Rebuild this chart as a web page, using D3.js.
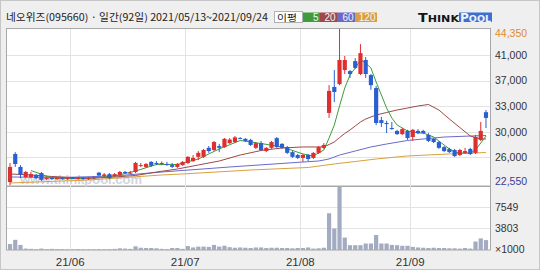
<!DOCTYPE html>
<html>
<head>
<meta charset="utf-8">
<script src="https://cdn.jsdelivr.net/npm/d3@7"></script>
<style>
html, body { margin: 0; padding: 0; background: #efefef; }
svg { display: block; }
</style>
</head>
<body>
<div id="chart"></div>
<script>
// 네오위즈 일봉 92일 (2021/05/13 ~ 2021/09/24), 원
var openP = [23100,27000,25200,23800,23800,24100,24350,23500,23650,23500,
  23650,23500,23650,23600,23650,23500,23650,24400,23950,24200,
  23950,24100,24500,24350,24500,25400,25200,25900,25750,25650,
  25600,25450,25200,25450,25750,26000,26600,26600,27850,27550,
  28100,27950,28500,28650,29200,29100,28950,27850,28500,27400,
  27850,29200,28400,27950,27250,26850,26450,26850,26450,27150,
  27850,32700,36300,36700,38650,38500,39900,38100,40050,37950,
  36150,31700,31300,30600,30200,29750,30200,29350,30200,30200,
  29650,29100,28650,27950,27700,27550,26850,27150,27700,27150,
  28950,32800];
var highP = [25750,27250,25450,24650,24500,24200,24500,23800,23800,23750,
  23800,23800,23800,23800,23800,23800,23950,24500,24350,24350,
  24350,24650,24650,24650,25900,25750,25750,26000,26000,25950,
  25900,25750,25750,26000,26700,26850,27400,27700,28100,28800,
  28400,29200,29200,29500,29350,29200,29100,28650,28800,27950,
  28800,29350,28500,28100,27400,27000,27000,27000,27250,28100,
  28500,36550,38650,44350,40600,38650,40300,42250,40450,38100,
  36450,32150,31600,31450,30350,30600,30350,30450,30450,30350,
  29900,29200,28800,28100,27850,27700,27700,27850,27850,29650,
  31450,33100];
var lowP = [22650,25200,23650,23650,23650,23500,23250,23400,23400,23400,
  23400,23400,23500,23450,23400,23400,23500,23950,23800,23500,
  23800,23950,24200,24200,24350,25200,25050,25200,25450,25450,
  25350,25050,25050,25350,25600,25900,26150,26450,27150,27400,
  27250,27850,28400,28500,29100,28650,28100,27700,27400,27250,
  27700,27850,27700,27000,26450,26300,25900,26000,26300,27000,
  27700,32000,34200,36550,38100,37550,38800,37950,37550,35900,
  31000,30750,29900,30350,29650,29650,28950,28800,29750,29750,
  28650,28500,27700,27250,27150,26600,26700,27000,26850,27000,
  28800,30600];
var closeP = [25200,25600,24100,24500,24200,23650,23400,23650,23500,23650,
  23500,23650,23600,23650,23500,23650,23750,24000,24150,23650,
  24200,24500,24350,24400,25750,25450,25600,25350,25650,25750,
  25550,25200,25600,25900,26600,26450,27150,27550,27400,28650,
  27850,29100,29000,29300,29150,28800,28250,28500,27550,27850,
  28650,27950,27850,27150,26600,26450,26850,26300,27150,27950,
  28250,35750,35600,40050,40050,38100,38950,41000,38100,36550,
  31300,31300,31150,30550,29750,30450,29200,30350,29900,29900,
  28800,28650,27850,27400,27250,26700,27550,27400,27000,29350,
  30200,32000];
// 거래량 (x1000)
var volume = [1050,1800,900,250,200,150,250,150,200,150,
  150,120,120,150,120,120,130,150,120,150,
  200,300,250,200,650,400,350,350,300,200,
  150,350,350,200,700,450,600,600,550,900,
  600,750,500,400,450,400,350,450,450,350,
  400,400,350,350,300,350,350,450,250,300,
  400,6500,3800,11200,2200,850,850,850,1150,1150,
  2650,1150,1150,900,850,750,750,550,450,400,
  350,400,350,350,300,300,250,350,250,1500,
  2050,1750];

// 이동평균선 (그림에서 읽은 지점)
var ma5Idx = [4,8,12,16,20,24,28,32,36,40,44,48,52,56,58,60,
  61,62,63,64,65,66,67,68,69,70,71,72,73,74,75,76,77,78,79,80,
  81,82,83,84,85,86,87,88,89,90,91];
var ma5 = [24700,23660,23590,23660,23940,24630,25540,25540,26300,27690,28870,28450,27970,27000,26720,27550,
  29210,31020,33660,36160,37960,38930,40050,39630,38930,36990,35190,33380,31990,31020,30600,30190,30050,29910,29910,29630,
  29350,28800,28240,27690,27270,27130,27130,27130,27550,28520,29490];
var ma20Idx = [0,4,8,12,16,20,24,28,32,36,40,44,48,52,56,60,
  61,62,63,64,65,66,67,68,69,70,72,74,76,78,80,82,84,86,88,90,91];
var ma20 = [24220,24080,23870,23730,23660,23800,24010,24490,24910,25470,26020,26850,27480,27830,27970,27970,
  28310,28660,29280,29840,30330,30880,31440,31850,32130,32410,32760,33100,33380,33660,33870,33100,31850,30670,29490,29080,29080];
var ma60Idx = [0,10,20,29,42,56,59,61,63,66,69,72,76,83,88,91];
var ma60 = [23800,23730,23940,24490,25190,25880,26020,26300,26850,27410,27970,28380,28870,29350,29490,29560];
var ma120Idx = [0,15,29,33,46,57,62,66,70,76,84,91];
var ma120 = [22970,23380,24080,24220,24770,25120,25610,25950,26300,26720,27000,27200];

var xTickIdx = [12, 34, 56, 77];
var xTickLabels = ["21/06", "21/07", "21/08", "21/09"];
var priceTickLabels = ["22,550", "26,000", "30,000", "33,000", "37,000", "41,000", "44,350"];
var volTicks = [3803, 7549];
var maNames = ["5", "20", "60", "120"];
var maColors = ["#3f9c3c", "#a04848", "#6a6acb", "#d9a040"];

var W = 540, H = 270;
var svg = d3.select("#chart").append("svg")
    .attr("width", W)
    .attr("height", H)
    .style("font-family", "'Liberation Sans', Arial, sans-serif");

svg.append("rect").attr("width", W).attr("height", H).attr("fill", "#efefef");
svg.append("rect")
    .attr("x", 0.5).attr("y", 0.5).attr("width", W - 1).attr("height", H - 1)
    .attr("fill", "none").attr("stroke", "#c6c6c6");

var n = closeP.length;
var x = d3.scaleBand().domain(d3.range(n)).range([7.4, 488.6]);
var step = x.step();
var bw = step * 0.8;
var cx = function(i) { return x(i) + step / 2; };
var y = d3.scaleLinear().domain([22550, 44350]).range([186, 29]);
var yv = d3.scaleLinear().domain([0, 11320]).range([250, 186]);
var grid = d3.scaleLinear().domain([0, 6]).range([183, 29.5]);

// panels
svg.append("rect")
    .attr("x", 6.5).attr("y", 28.5).attr("width", 484).attr("height", 157.5)
    .attr("fill", "#fff").attr("stroke", "#a8a8a8");
svg.append("rect")
    .attr("x", 6.5).attr("y", 186.5).attr("width", 484).attr("height", 63.5)
    .attr("fill", "#fff").attr("stroke", "#a8a8a8");

// grid
svg.append("g").selectAll("line")
    .data(d3.range(1, 6))
    .enter().append("line")
        .attr("x1", 7).attr("x2", 490)
        .attr("y1", function(k) { return Math.round(grid(k)) + 0.5; })
        .attr("y2", function(k) { return Math.round(grid(k)) + 0.5; })
        .attr("stroke", "#e3e3e3");
svg.append("g").selectAll("line")
    .data(volTicks)
    .enter().append("line")
        .attr("x1", 7).attr("x2", 490)
        .attr("y1", function(d) { return Math.round(yv(d)) + 0.5; })
        .attr("y2", function(d) { return Math.round(yv(d)) + 0.5; })
        .attr("stroke", "#e3e3e3");
svg.append("g").selectAll("line")
    .data(xTickIdx)
    .enter().append("line")
        .attr("x1", function(i) { return Math.round(x(i)) + 0.5; })
        .attr("x2", function(i) { return Math.round(x(i)) + 0.5; })
        .attr("y1", 29).attr("y2", 250)
        .attr("stroke", "#e3e3e3");

// watermark
svg.append("text")
    .attr("x", 20).attr("y", 184)
    .attr("textLength", 122).attr("lengthAdjust", "spacingAndGlyphs")
    .style("font-size", "12px").style("font-weight", "bold")
    .attr("fill", "#c9cce0").attr("opacity", 0.85)
    .text("www.thinkpool.com");

// moving averages
var line = d3.line()
    .x(function(d) { return cx(d[0]); })
    .y(function(d) { return y(d[1]); });
var maSets = [[ma120Idx, ma120], [ma60Idx, ma60], [ma20Idx, ma20], [ma5Idx, ma5]];
var maCol = [maColors[3], maColors[2], maColors[1], maColors[0]];
maSets.forEach(function(s, k) {
    svg.append("path")
        .datum(s[0].map(function(i, j) { return [i, s[1][j]]; }))
        .attr("d", line)
        .attr("fill", "none")
        .attr("stroke", maCol[k])
        .attr("stroke-width", 1);
});

// candles
var up = "#dc2f2f", down = "#2a5fd0";
var candle = svg.append("g").selectAll("g")
    .data(d3.range(n))
    .enter().append("g");
candle.append("line")
    .attr("x1", cx).attr("x2", cx)
    .attr("y1", function(i) { return y(highP[i]); })
    .attr("y2", function(i) { return y(lowP[i]); })
    .attr("stroke", function(i) { return closeP[i] >= openP[i] ? up : down; })
    .attr("stroke-width", 1);
candle.append("rect")
    .attr("x", function(i) { return cx(i) - bw / 2; })
    .attr("width", bw)
    .attr("y", function(i) { return y(Math.max(openP[i], closeP[i])); })
    .attr("height", function(i) { return Math.max(1, Math.abs(y(openP[i]) - y(closeP[i]))); })
    .attr("fill", function(i) { return closeP[i] >= openP[i] ? up : down; });

// volume
svg.append("g").selectAll("rect")
    .data(volume)
    .enter().append("rect")
        .attr("x", function(d, i) { return cx(i) - bw / 2; })
        .attr("width", bw)
        .attr("y", function(d) { return yv(d); })
        .attr("height", function(d) { return 250 - yv(d); })
        .attr("fill", "#a3abc3");

// right labels
svg.append("g").selectAll("text")
    .data(priceTickLabels)
    .enter().append("text")
        .attr("x", 495)
        .attr("y", function(d, k) { return grid(k) + (k === 0 ? -2 : (k === 6 ? 4 : 0)); })
        .attr("dy", "0.35em")
        .style("font-size", "10.5px")
        .attr("fill", function(d, k) { return k === 0 ? "#3c3c9a" : (k === 6 ? "#e08a30" : "#333"); })
        .text(function(d) { return d; });
svg.append("g").selectAll("text")
    .data(volTicks)
    .enter().append("text")
        .attr("x", 495)
        .attr("y", function(d) { return yv(d); })
        .attr("dy", "0.35em")
        .style("font-size", "10.5px")
        .attr("fill", "#333")
        .text(function(d) { return d; });
svg.append("text")
    .attr("x", 495).attr("y", 249).attr("dy", "0.35em")
    .style("font-size", "10.5px").attr("fill", "#333")
    .text("×1000");

// bottom labels
svg.append("g").selectAll("text")
    .data(xTickIdx)
    .enter().append("text")
        .attr("x", function(i) { return x(i); })
        .attr("y", 266)
        .attr("text-anchor", "middle")
        .style("font-size", "11.5px")
        .attr("fill", "#333")
        .text(function(d, k) { return xTickLabels[k]; });

// title
svg.append("text")
    .attr("x", 6).attr("y", 21)
    .attr("textLength", 262).attr("lengthAdjust", "spacingAndGlyphs")
    .style("font-family", "'Noto Sans CJK KR', sans-serif")
    .style("font-size", "10px")
    .attr("fill", "#222")
    .text("네오위즈(095660) · 일간(92일) 2021/05/13~2021/09/24");

// legend
var lg = svg.append("g");
lg.append("rect").attr("x", 274.5).attr("y", 11.5).attr("width", 28).attr("height", 11)
    .attr("fill", "#fff").attr("stroke", "#b0b0b0");
lg.append("text").attr("x", 277).attr("y", 20.5)
    .attr("textLength", 20).attr("lengthAdjust", "spacingAndGlyphs")
    .style("font-family", "'Noto Sans CJK KR', sans-serif").style("font-size", "9.5px")
    .attr("fill", "#222").text("이평");
var boxX = [303, 320, 337, 355], boxW = [17, 17, 18, 22];
maNames.forEach(function(name, k) {
    lg.append("rect").attr("x", boxX[k]).attr("y", 12.5).attr("width", boxW[k]).attr("height", 9.5)
        .attr("fill", maColors[k]);
    lg.append("text").attr("x", boxX[k] + boxW[k] - 1.5).attr("y", 21)
        .attr("text-anchor", "end").style("font-size", "10px")
        .attr("fill", "#f4f4f4").text(name);
});

// logo
var logo = svg.append("g").style("font-family", "'DejaVu Sans', sans-serif").style("font-weight", "bold");
var t1 = logo.append("text").attr("x", 418).attr("y", 21.5).attr("fill", "#151515")
    .attr("textLength", 41).attr("lengthAdjust", "spacingAndGlyphs");
t1.append("tspan").style("font-size", "11.5px").text("T");
t1.append("tspan").style("font-size", "9px").text("HINK");
logo.append("rect").attr("x", 459).attr("y", 12.5).attr("width", 33).attr("height", 9.5).attr("fill", "#3b6fd0");
var t2 = logo.append("text").attr("x", 460).attr("y", 21.5).attr("fill", "#eef3ff")
    .attr("textLength", 31).attr("lengthAdjust", "spacingAndGlyphs");
t2.append("tspan").style("font-size", "11.5px").text("P");
t2.append("tspan").style("font-size", "9px").text("OOL");
</script>
</body>
</html>
